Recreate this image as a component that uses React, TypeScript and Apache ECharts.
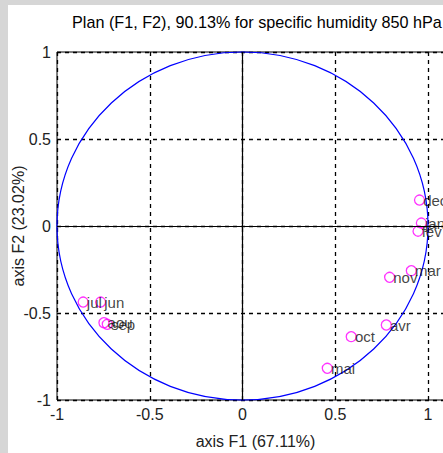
import React, { useEffect, useRef } from "react";
import * as echarts from "echarts";

const months = ["jan", "fev", "mar", "avr", "mai", "jun", "jul", "aou", "sep", "oct", "nov", "dec"];
const f1 = [0.964, 0.946, 0.91, 0.775, 0.457, -0.765, -0.859, -0.747, -0.729, 0.586, 0.793, 0.954];
const f2 = [0.017, -0.03, -0.257, -0.569, -0.818, -0.437, -0.437, -0.556, -0.565, -0.636, -0.295, 0.149];
const tickValues = [-1, -0.5, 0, 0.5, 1];
const circleCenter = [0, 0];
const circleRadius = 1;

const titleText = "Plan (F1, F2), 90.13% for specific humidity 850 hPa";
const xName = "axis F1 (67.11%)";
const yName = "axis F2 (23.02%)";
const FONT = "'Liberation Sans', Arial, sans-serif";

export default function App() {
  const ref = useRef<HTMLDivElement>(null);
  useEffect(() => {
    if (!ref.current) return;
    const chart = echarts.init(ref.current, null, { renderer: "svg" });
    const fmt = (v: number) => {
      const hit = tickValues.find((t) => Math.abs(t - v) < 1e-6);
      return hit === undefined ? "" : String(hit);
    };
    chart.setOption({
      animation: false,
      backgroundColor: "#ffffff",
      textStyle: { fontFamily: FONT },
      graphic: [
        { type: "rect", left: 0, top: 0, shape: { width: 443, height: 5 }, style: { fill: "#d6d6d6" }, z: -1 },
        { type: "rect", left: 0, top: 0, shape: { width: 8, height: 453 }, style: { fill: "#d6d6d6" }, z: -1 },
        {
          type: "text",
          left: 72,
          top: 14,
          style: { text: titleText, font: `16.2px ${FONT}`, fill: "#000" },
        },
      ],
      grid: {
        left: 57,
        top: 52,
        bottom: 53,
        right: -11,
        outerBoundsMode: "none",
        containLabel: false,
        show: true,
        borderColor: "#000",
        borderWidth: 1,
        backgroundColor: "#fff",
      },
      xAxis: {
        type: "value",
        min: -1,
        max: 1.14,
        interval: 0.5,
        name: xName,
        nameLocation: "middle",
        nameGap: 33,
        nameMoveOverlap: false,
        nameTextStyle: { fontSize: 16, color: "#222", fontFamily: FONT },
        axisLine: { show: false },
        axisTick: { show: false },
        axisLabel: { formatter: fmt, fontSize: 16, color: "#222", margin: 6, fontFamily: FONT },
        splitLine: { show: true, lineStyle: { color: "#000", type: [4, 4], width: 1.3 } },
      },
      yAxis: {
        type: "value",
        min: -1,
        max: 1,
        interval: 0.5,
        name: yName,
        nameLocation: "middle",
        nameRotate: 90,
        nameGap: 31,
        nameMoveOverlap: false,
        nameTextStyle: { fontSize: 16, color: "#222", fontFamily: FONT },
        axisLine: { show: false },
        axisTick: { show: false },
        axisLabel: { formatter: fmt, fontSize: 16, color: "#222", margin: 6, fontFamily: FONT },
        splitLine: { show: true, lineStyle: { color: "#000", type: [4, 4], width: 1.3 } },
      },
      series: [
        {
          type: "custom",
          clip: false,
          silent: true,
          data: [[circleCenter[0], circleCenter[1], circleRadius]],
          renderItem: (params: any, api: any) => {
            const cx0 = api.value(0);
            const cy0 = api.value(1);
            const r = api.value(2);
            const c = api.coord([cx0, cy0]);
            const px = api.coord([cx0 + r, cy0]);
            const py = api.coord([cx0, cy0 + r]);
            return {
              type: "ellipse",
              shape: { cx: c[0], cy: c[1], rx: px[0] - c[0], ry: c[1] - py[1] },
              style: { fill: "none", stroke: "#0000ff", lineWidth: 1.2 },
            };
          },
          z: 3,
        },
        {
          type: "scatter",
          data: months.map((m, i) => ({ name: m, value: [f1[i], f2[i]] })),
          symbol: "circle",
          symbolSize: 10,
          itemStyle: { color: "rgba(0,0,0,0)", borderColor: "#ff00ff", borderWidth: 1.3 },
          label: {
            show: true,
            position: "right",
            distance: -2,
            formatter: (p: any) => p.name,
            fontSize: 15,
            color: "#111",
            fontFamily: FONT,
          },
          markLine: {
            silent: true,
            symbol: "none",
            label: { show: false },
            lineStyle: { color: "#000", type: "solid", width: 1.2 },
            data: [{ xAxis: 0 }, { yAxis: 0 }],
          },
          z: 4,
        },
      ],
    });
    return () => chart.dispose();
  }, []);
  return (
    <div
      ref={ref}
      style={{ position: "absolute", left: 0, top: 0, width: 443, height: 453 }}
    />
  );
}
